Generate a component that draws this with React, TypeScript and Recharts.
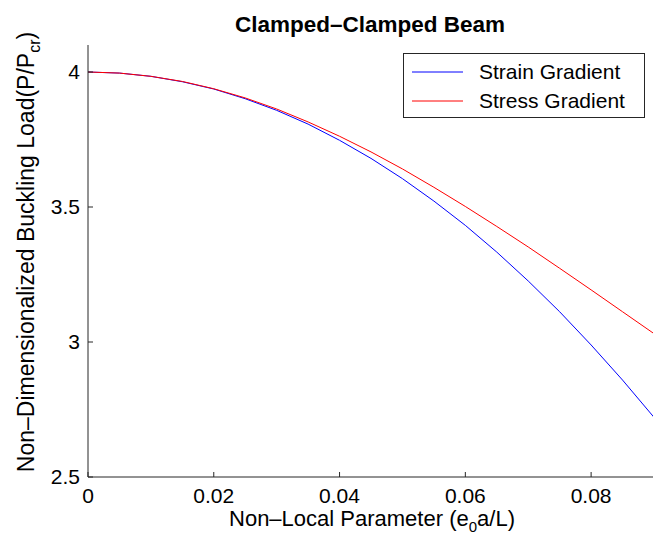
import { Legend, Line, LineChart, XAxis, YAxis } from "recharts";

// e0a/L values and the two buckling curves
const nonLocal = [0, 0.005, 0.01, 0.015, 0.02, 0.025, 0.03, 0.035, 0.04, 0.045, 0.05, 0.055, 0.06, 0.065, 0.07, 0.075, 0.08, 0.085, 0.09];
const strainGradient = [4, 3.996, 3.984, 3.964, 3.937, 3.901, 3.858, 3.807, 3.747, 3.68, 3.605, 3.522, 3.432, 3.333, 3.226, 3.112, 2.989, 2.859, 2.721];
const stressGradient = [4, 3.996, 3.984, 3.965, 3.938, 3.904, 3.863, 3.815, 3.762, 3.704, 3.641, 3.573, 3.502, 3.428, 3.352, 3.273, 3.193, 3.112, 3.031];
const xTicks = [0, 0.02, 0.04, 0.06, 0.08];
const yTicks = [2.5, 3, 3.5, 4];
const seriesNames = ["Strain Gradient", "Stress Gradient"];

const BLUE = "#0000ff";
const RED = "#ff0000";
const AXIS = "#262626";
const FONT = "'Liberation Sans', Arial, Helvetica, sans-serif";

const data = nonLocal.map((x, i) => ({ x, strain: strainGradient[i], stress: stressGradient[i] }));

function XTitle() {
  return (
    <text x={372} y={526} textAnchor="middle" fontSize={22} fill="#000" fontFamily={FONT}>
      Non–Local Parameter (e<tspan dy={6} fontSize={15}>0</tspan>
      <tspan dy={-6}>a/L)</tspan>
    </text>
  );
}

function YTitle() {
  return (
    <text transform="translate(34, 252) rotate(-90)" textAnchor="middle" fontSize={23} fill="#000" fontFamily={FONT}>
      Non–Dimensionalized Buckling Load(P/P<tspan dy={6} fontSize={16}>cr</tspan>
      <tspan dy={-6}>)</tspan>
    </text>
  );
}

function LegendBox() {
  return (
    <svg width={242} height={65} style={{ display: "block" }}>
      <rect x={0.5} y={0.5} width={241} height={64} fill="#fff" stroke={AXIS} />
      <line x1={9} x2={60} y1={19} y2={19} stroke={BLUE} />
      <line x1={9} x2={60} y1={48} y2={48} stroke={RED} />
      <text x={76} y={26} fontSize={21} fill="#000" fontFamily={FONT}>{seriesNames[0]}</text>
      <text x={76} y={55} fontSize={21} fill="#000" fontFamily={FONT}>{seriesNames[1]}</text>
    </svg>
  );
}

export default function App() {
  const tickStyle = { fill: "#000", fontSize: 21, fontFamily: FONT };
  return (
    <div style={{ position: "absolute", left: 0, top: 0, width: 653, height: 537, overflow: "hidden", background: "#fff", fontFamily: FONT }}>
      <svg width={653} height={44} style={{ position: "absolute", left: 0, top: 0 }}>
        <text x={370} y={32} textAnchor="middle" fontSize={22.5} fontWeight="bold" fill="#000" fontFamily={FONT}>
          Clamped–Clamped Beam
        </text>
      </svg>
      <LineChart width={662} height={537} data={data} margin={{ top: 45, right: 8, bottom: 0, left: 0 }}>
        <XAxis dataKey="x" type="number" domain={[0, 0.09]} ticks={xTicks} allowDataOverflow height={60}
          tickSize={-5} tickMargin={16} stroke={AXIS} tick={tickStyle} tickFormatter={(v) => String(v)} label={<XTitle />} />
        <XAxis xAxisId="top" orientation="top" dataKey="x" type="number" domain={[0, 0.09]} ticks={xTicks} allowDataOverflow
          height={0} tickSize={-5} tick={false} stroke={AXIS} />
        <YAxis type="number" domain={[2.5, 4.1]} ticks={yTicks} allowDataOverflow width={88}
          tickSize={-5} tickMargin={13} stroke={AXIS} tick={tickStyle} label={<YTitle />} />
        <YAxis yAxisId="right" orientation="right" type="number" domain={[2.5, 4.1]} ticks={yTicks} allowDataOverflow
          width={0} tickSize={-5} tick={false} stroke={AXIS} />
        <Legend layout="horizontal" verticalAlign="middle" content={() => <LegendBox />}
          wrapperStyle={{ left: 403, top: 53, width: 242, height: 65 }} />
        <Line type="linear" dataKey="strain" name={seriesNames[0]} stroke={BLUE} strokeWidth={1} dot={false} isAnimationActive={false} />
        <Line type="linear" dataKey="stress" name={seriesNames[1]} stroke={RED} strokeWidth={1} dot={false} isAnimationActive={false} />
      </LineChart>
    </div>
  );
}
